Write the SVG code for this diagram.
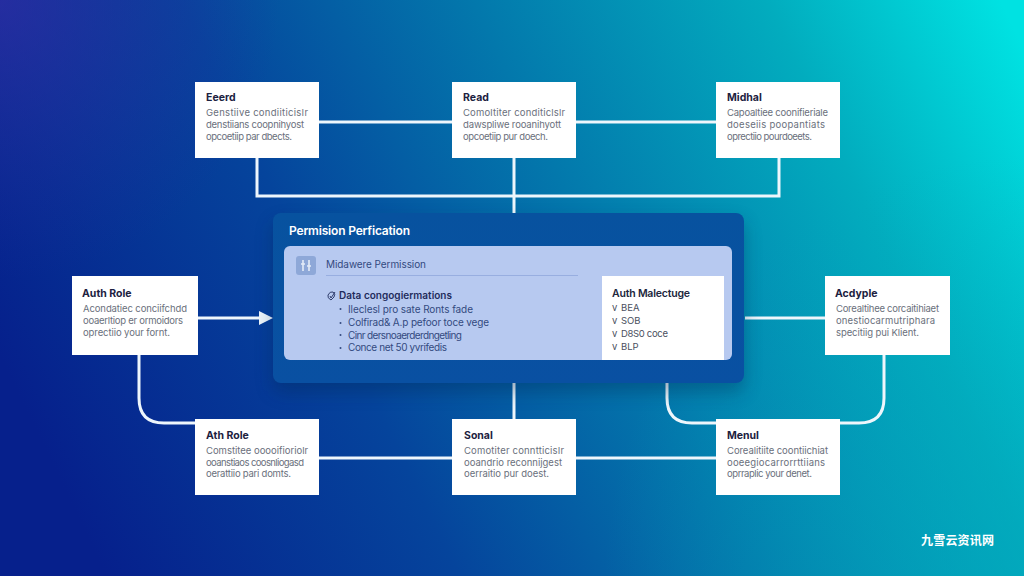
<svg xmlns="http://www.w3.org/2000/svg" width="1024" height="576" viewBox="0 0 1024 576">
<defs>
<linearGradient id="bg" gradientUnits="userSpaceOnUse" x1="60" y1="480" x2="1010" y2="20">
<stop offset="0" stop-color="#06208c"/>
<stop offset="0.3" stop-color="#05449c"/>
<stop offset="0.55" stop-color="#0378ac"/>
<stop offset="0.8" stop-color="#02acbe"/>
<stop offset="1" stop-color="#00e2e2"/>
</linearGradient>
<radialGradient id="tl" gradientUnits="userSpaceOnUse" cx="0" cy="0" r="280">
<stop offset="0" stop-color="#3a2aa8" stop-opacity="0.6"/>
<stop offset="1" stop-color="#2a2aa0" stop-opacity="0"/>
</radialGradient>
<radialGradient id="br" gradientUnits="userSpaceOnUse" cx="1024" cy="576" r="420">
<stop offset="0" stop-color="#02a8bc" stop-opacity="0.55"/>
<stop offset="1" stop-color="#02a8bc" stop-opacity="0"/>
</radialGradient>
<linearGradient id="panel" x1="0" y1="0" x2="0" y2="1">
<stop offset="0" stop-color="#07529f"/>
<stop offset="1" stop-color="#0950a2"/>
</linearGradient>
<filter id="sh" x="-10%" y="-20%" width="120%" height="150%"><feGaussianBlur stdDeviation="9"/></filter>
</defs>
<style>
text{font-family:"Inter","Liberation Sans",sans-serif}
.wm{font-family:"Noto Sans CJK SC",sans-serif;font-size:12px;font-weight:700;fill:#fff}
.box{fill:#fff}
.c{fill:none;stroke:#eef6fc;stroke-width:3}
.h{font-size:10.5px;font-weight:700;fill:#1c2140}
.b{font-size:9.5px;fill:#6a707c}
.t{font-size:12px;font-weight:600;fill:#fff}
.m{font-size:10px;fill:#33497f}
.d{font-size:10px;font-weight:600;fill:#1f2c5c}
.l{font-size:10px;fill:#33497f}
.bu{fill:#33497f}
.p{font-size:10.5px;font-weight:600;fill:#20263c}
.i{font-size:9.5px;fill:#4a5060}
</style>
<rect width="1024" height="576" fill="url(#bg)"/>
<rect width="1024" height="576" fill="url(#tl)"/>
<rect width="1024" height="576" fill="url(#br)"/>
<g id="connectors" class="c">
<path d="M319 122H452M576 122H716"/>
<path d="M257 158V196H779V158M514 158V213"/>
<path d="M198 318H260"/>
<path d="M745 318H825"/>
<path d="M139 355V398Q139 423 164 423H195"/>
<path d="M884 355V398Q884 423 859 423H840"/>
<path d="M667 383V398Q667 423 692 423H716"/>
<path d="M514 383V419"/>
<path d="M319 458H452M576 458H716"/>
<polygon points="259,311 273,318 259,325" fill="#eef6fc" stroke="none"/>
</g>
<rect x="273" y="222" width="471" height="170" rx="8" fill="#04264f" opacity="0.35" filter="url(#sh)"/>
<g id="main-panel">
<rect x="273" y="213" width="471" height="170" rx="8" fill="url(#panel)"/>
<text class="t" x="289" y="235" textLength="121">Permision Perfication</text>
<rect x="284" y="246" width="448" height="114" rx="6" fill="#b7c9f0"/>
<rect x="296" y="256" width="20" height="19" rx="3" fill="#8ea8d8"/>
<path d="M303 260V271M309 260V271M301 264H305M307 266H311" stroke="#e4ecf8" stroke-width="1.6" fill="none"/>
<text class="m" x="326" y="268" textLength="100">Midawere Permission</text>
<rect x="326" y="275" width="252" height="1" fill="#98aee0"/>
<path d="M328 295Q330 291 333 292Q336 294 334 297L331 300Q327 298 328 295ZM330 296L331 298L335 292" fill="none" stroke="#1f2c5c" stroke-width="0.9"/>
<text class="d" x="339" y="299" textLength="113">Data congogiermations</text>
<g class="bu"><circle cx="340.500" cy="309" r="1"/><circle cx="340.500" cy="323" r="1"/><circle cx="340.500" cy="335" r="1"/><circle cx="340.500" cy="348" r="1"/></g>
<text class="l" x="348" y="313" textLength="125">Ileclesl pro sate Ronts fade</text>
<text class="l" x="348" y="326" textLength="141">Colfirad&amp; A.p pefoor toce vege</text>
<text class="l" x="348" y="339" textLength="114">Cinr dersnoaerderdngetling</text>
<text class="l" x="348" y="351" textLength="99">Conce net 50 yvrifedis</text>
<rect x="602" y="276" width="122" height="84" fill="#fff"/>
<text class="p" x="612" y="297" textLength="78">Auth Malectuge</text>
<text class="i" x="612" y="311">v</text><text class="i" x="621" y="311">BEA</text>
<text class="i" x="612" y="324">v</text><text class="i" x="621" y="324">SOB</text>
<text class="i" x="612" y="337">v</text><text class="i" x="621" y="337" textLength="47">D8S0 coce</text>
<text class="i" x="612" y="350">v</text><text class="i" x="621" y="350">BLP</text>
</g>
<g id="node-seerd"><rect class="box" x="195" y="82" width="124" height="76"/>
<text class="h" x="206" y="101">Eeerd</text>
<text class="b" x="206" y="116" textLength="102">Genstiive condiiticisIr</text>
<text class="b" x="206" y="128" textLength="98">denstiians coopnihyost</text>
<text class="b" x="206" y="140" textLength="86">opcoetiip par dbects.</text></g>
<g id="node-read"><rect class="box" x="452" y="82" width="124" height="76"/>
<text class="h" x="463" y="101">Read</text>
<text class="b" x="463" y="116" textLength="102">Comoltiter conditiclslr</text>
<text class="b" x="463" y="128" textLength="98">dawspliwe rooanihyott</text>
<text class="b" x="463" y="140" textLength="85">opcoetiip pur doech.</text></g>
<g id="node-midhal"><rect class="box" x="716" y="82" width="124" height="76"/>
<text class="h" x="727" y="101">Midhal</text>
<text class="b" x="727" y="116" textLength="101">Capoaltiee coonifieriale</text>
<text class="b" x="727" y="128" textLength="98">doeseiis poopantiats</text>
<text class="b" x="727" y="140" textLength="85">oprectiio pourdoeets.</text></g>
<g id="node-auth-left"><rect class="box" x="72" y="276" width="126" height="79"/>
<text class="h" x="82" y="297">Auth Role</text>
<text class="b" x="83" y="312" textLength="104">Acondatiec conciifchdd</text>
<text class="b" x="83" y="324" textLength="100">ooaerltiop er ormoidors</text>
<text class="b" x="83" y="336" textLength="87">oprectiio your fornt.</text></g>
<g id="node-acdyple"><rect class="box" x="825" y="276" width="125" height="79"/>
<text class="h" x="835" y="297">Acdyple</text>
<text class="b" x="836" y="312" textLength="103">Corealtihee corcaitihiaet</text>
<text class="b" x="836" y="324" textLength="99">onestiocarmutriphara</text>
<text class="b" x="836" y="336" textLength="83">specitiig pui Klient.</text></g>
<g id="node-auth-bottom"><rect class="box" x="195" y="419" width="124" height="76"/>
<text class="h" x="206" y="439">Ath Role</text>
<text class="b" x="206" y="454" textLength="102">Comstitee ooooifioriolr</text>
<text class="b" x="206" y="466" textLength="98">ooanstiaos coosnliogasd</text>
<text class="b" x="206" y="477" textLength="85">oerattiio pari domts.</text></g>
<g id="node-sonal"><rect class="box" x="452" y="419" width="124" height="76"/>
<text class="h" x="464" y="439">Sonal</text>
<text class="b" x="464" y="454" textLength="100">Comotiter conntticisIr</text>
<text class="b" x="464" y="466" textLength="98">ooandrio reconnijgest</text>
<text class="b" x="464" y="477" textLength="85">oerraitio pur doest.</text></g>
<g id="node-menul"><rect class="box" x="716" y="419" width="124" height="76"/>
<text class="h" x="727" y="439">Menul</text>
<text class="b" x="727" y="454" textLength="101">Corealitiite coontiichiat</text>
<text class="b" x="727" y="466" textLength="98">ooeegiocarrorrttiians</text>
<text class="b" x="727" y="477" textLength="85">oprraplic your denet.</text></g>
<text class="wm" x="921" y="545" textLength="73">九雪云资讯网</text>
</svg>
